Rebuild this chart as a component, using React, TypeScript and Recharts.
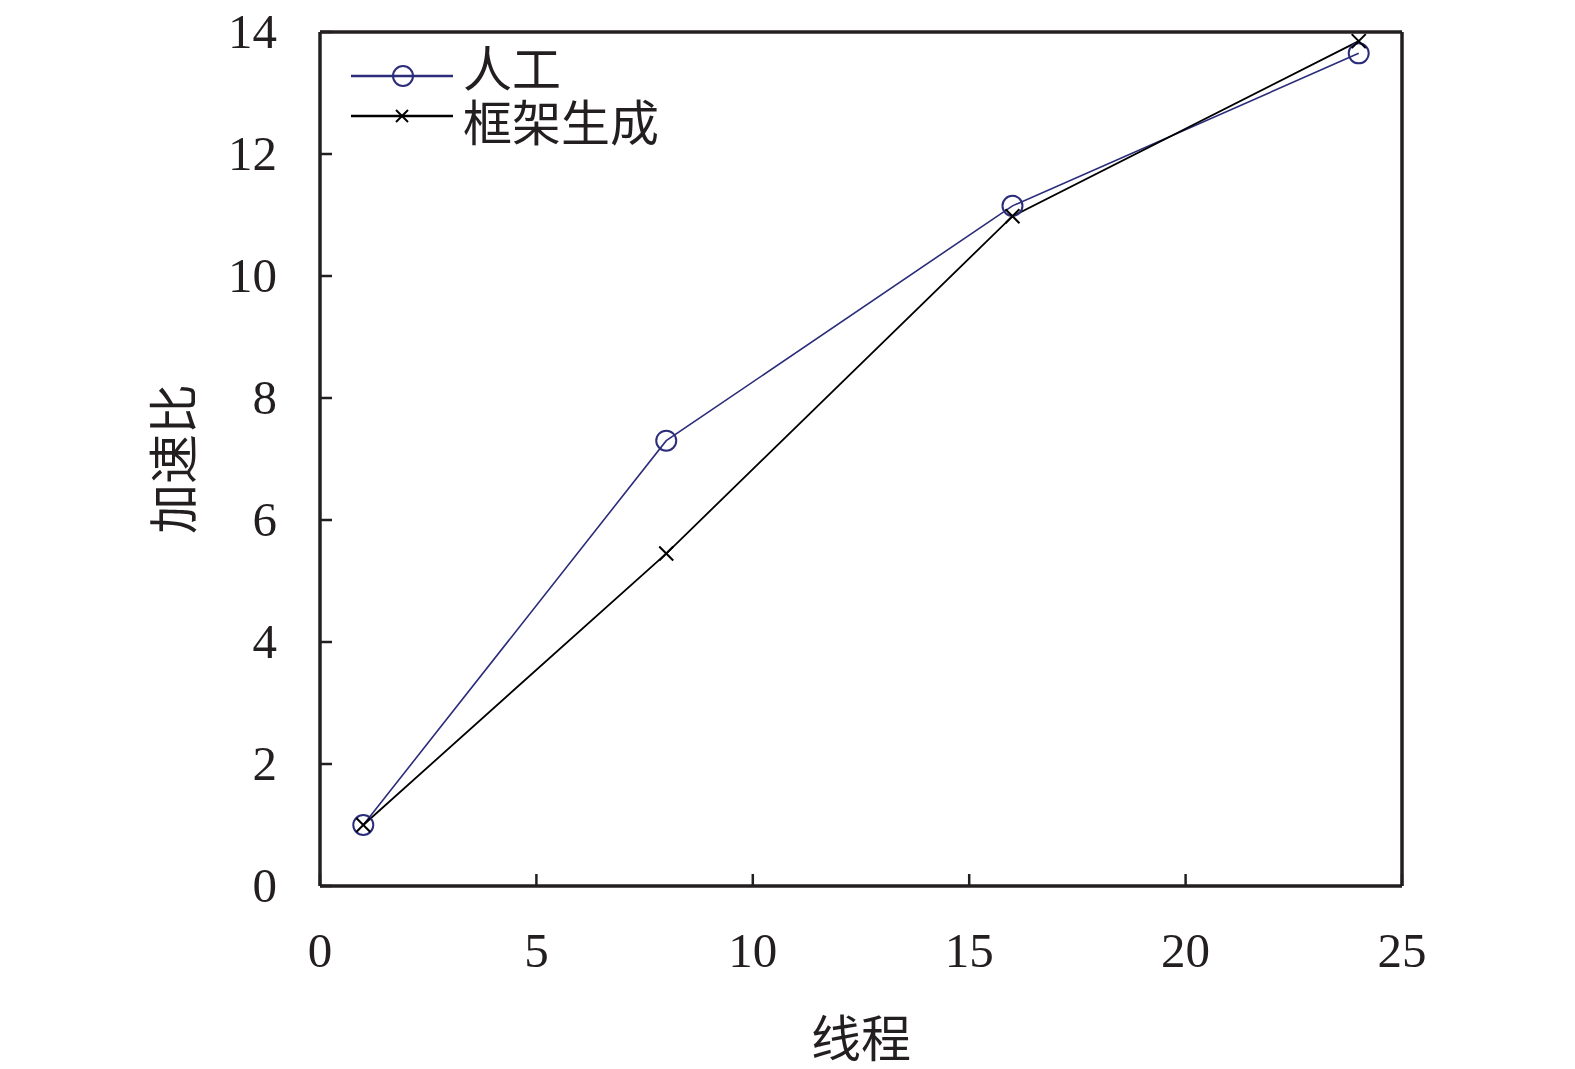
import React from 'react';
import { LineChart, Line, XAxis, YAxis, Legend, ReferenceLine } from 'recharts';

const threads = [1, 8, 16, 24];
const manualSpeedup = [1.0, 7.3, 11.15, 13.65];
const frameworkSpeedup = [1.0, 5.45, 10.98, 13.85];
const xTicks = [0, 5, 10, 15, 20, 25];
const yTicks = [0, 2, 4, 6, 8, 10, 12, 14];
const seriesNames = ['人工', '框架生成'];
const xTitle = '线程';
const yTitle = '加速比';

const data = threads.map((t, i) => ({
  t,
  manual: manualSpeedup[i],
  framework: frameworkSpeedup[i],
}));

const AXIS = '#231f20';
const NAVY = '#2b2d7a';
const NUM_FONT = "'Liberation Serif', 'Times New Roman', serif";
const CJK_FONT = "'Noto Sans CJK SC', 'Liberation Serif', serif";

const CircleDot = (props: any) => {
  const { cx, cy, index } = props;
  if (cx == null || cy == null) return <g key={`c${index}`} />;
  return <circle key={`c${index}`} cx={cx} cy={cy} r={10} fill="none" stroke={NAVY} strokeWidth={2} />;
};

const CrossDot = (props: any) => {
  const { cx, cy, index } = props;
  if (cx == null || cy == null) return <g key={`x${index}`} />;
  const s = 7;
  return (
    <g key={`x${index}`}>
      <line x1={cx - s} y1={cy - s} x2={cx + s} y2={cy + s} stroke="#000" strokeWidth={2} />
      <line x1={cx - s} y1={cy + s} x2={cx + s} y2={cy - s} stroke="#000" strokeWidth={2} />
    </g>
  );
};

const YTick = (props: any) => {
  const { x, y, payload } = props;
  return (
    <g>
      <line x1={x} y1={y} x2={x + 12} y2={y} stroke={AXIS} strokeWidth={2.5} />
      <text x={x - 43} y={y + 16} textAnchor="end" fontFamily={NUM_FONT} fontSize={49} fill="#231f20">
        {payload.value}
      </text>
    </g>
  );
};

const XTick = (props: any) => {
  const { x, y, payload } = props;
  return (
    <g>
      <line x1={x} y1={y} x2={x} y2={y - 12} stroke={AXIS} strokeWidth={2.5} />
      <text x={x} y={y + 81} textAnchor="middle" fontFamily={NUM_FONT} fontSize={49} fill="#231f20">
        {payload.value}
      </text>
    </g>
  );
};

const LegendContent = () => {
  const rows = [
    { name: seriesNames[0], color: NAVY, marker: 'circle', lineY: 36, textY: 25 },
    { name: seriesNames[1], color: '#000', marker: 'cross', lineY: 76, textY: 79 },
  ];
  return (
    <svg width={360} height={120} style={{ display: 'block', overflow: 'visible' }}>
      {rows.map((r) => (
        <g key={r.name}>
          <line x1={11} y1={r.lineY} x2={113} y2={r.lineY} stroke={r.color} strokeWidth={2.5} />
          {r.marker === 'circle' ? (
            <circle cx={63} cy={r.lineY} r={10} fill="none" stroke={r.color} strokeWidth={2} />
          ) : (
            <g>
              <line x1={56} y1={r.lineY - 6} x2={68} y2={r.lineY + 6} stroke="#000" strokeWidth={2} />
              <line x1={56} y1={r.lineY + 6} x2={68} y2={r.lineY - 6} stroke="#000" strokeWidth={2} />
            </g>
          )}
          <text x={123} y={r.textY} dominantBaseline="central" fontFamily={CJK_FONT} fontSize={49} fill="#231f20">
            {r.name}
          </text>
        </g>
      ))}
    </svg>
  );
};

export default function App() {
  return (
    <div style={{ position: 'absolute', left: 0, top: 0, width: 1575, height: 1069, background: '#fff' }}>
      <LineChart width={1575} height={1069} data={data} margin={{ top: 32, right: 173, bottom: 0, left: 0 }}>
        <XAxis
          dataKey="t"
          type="number"
          domain={[0, 25]}
          ticks={xTicks}
          height={183}
          tickSize={0}
          tickMargin={0}
          tickLine={false}
          tick={<XTick />}
          axisLine={{ stroke: AXIS, strokeWidth: 3.5 }}
          label={(p: any) => {
            const vb = p.viewBox;
            return (
              <text x={vb.x + vb.width / 2} y={1035} textAnchor="middle" dominantBaseline="central" fontFamily={CJK_FONT} fontSize={50} fill="#231f20">
                {xTitle}
              </text>
            );
          }}
        />
        <YAxis
          type="number"
          domain={[0, 14]}
          ticks={yTicks}
          width={320}
          tickSize={0}
          tickMargin={0}
          tickLine={false}
          tick={<YTick />}
          axisLine={{ stroke: AXIS, strokeWidth: 3.5 }}
          label={(p: any) => {
            const vb = p.viewBox;
            const cx = 170;
            const cy = vb.y + vb.height / 2;
            return (
              <text x={cx} y={cy} transform={`rotate(-90 ${cx} ${cy})`} textAnchor="middle" dominantBaseline="central" fontFamily={CJK_FONT} fontSize={50} fill="#231f20">
                {yTitle}
              </text>
            );
          }}
        />
        <ReferenceLine y={14} stroke={AXIS} strokeWidth={3.5} ifOverflow="visible" />
        <ReferenceLine x={25} stroke={AXIS} strokeWidth={3.5} ifOverflow="visible" />
        <Legend
          layout="horizontal"
          verticalAlign="middle"
          align="center"
          content={<LegendContent />}
          wrapperStyle={{ position: 'absolute', left: 340, top: 40, width: 360, height: 120, bottom: 'auto', right: 'auto' }}
        />
        <Line
          name={seriesNames[0]}
          dataKey="manual"
          stroke={NAVY}
          strokeWidth={1.6}
          dot={CircleDot}
          activeDot={false}
          isAnimationActive={false}
        />
        <Line
          name={seriesNames[1]}
          dataKey="framework"
          stroke="#000"
          strokeWidth={1.8}
          dot={CrossDot}
          activeDot={false}
          isAnimationActive={false}
        />
      </LineChart>
    </div>
  );
}
